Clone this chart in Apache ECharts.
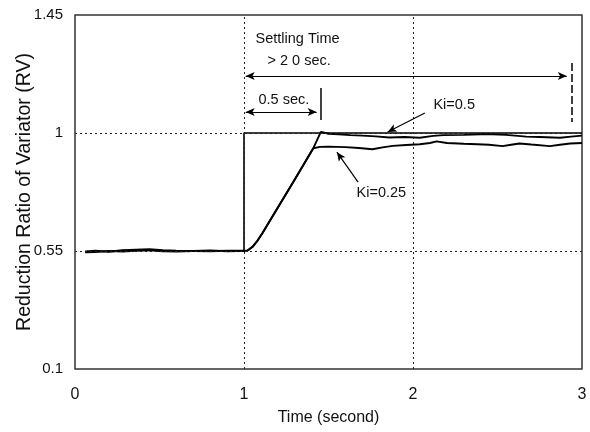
<!DOCTYPE html>
<html>
<head>
<meta charset="utf-8">
<script src="https://cdn.jsdelivr.net/npm/echarts@6.0.0/dist/echarts.min.js"></script>
<style>
  html, body { margin: 0; padding: 0; background: #fff; }
  #chart { width: 590px; height: 432px; }
</style>
</head>
<body>
<div id="chart"></div>
<script>
// Axis ticks
const xTicks = [0, 1, 2, 3];
const yTicks = [0.1, 0.55, 1, 1.45];
const yTickLabels = ['0.1', '0.55', '1', '1.45'];

// Step command for the reduction ratio
const refTime = [1, 1, 3];
const refRV = [0.55, 1, 1];

// Response with Ki=0.5
const timeKi05 = [0.06, 0.12, 0.2, 0.28, 0.36, 0.44, 0.52, 0.6, 0.7, 0.8,
  0.9, 0.97, 1.0, 1.02, 1.05, 1.08, 1.11, 1.2, 1.3, 1.41,
  1.455, 1.5, 1.56, 1.63, 1.7, 1.78, 1.86, 1.95, 2.04, 2.12,
  2.18, 2.3, 2.4, 2.47, 2.55, 2.62, 2.67, 2.75, 2.87, 2.95, 3.0];
const rvKi05 = [0.548, 0.551, 0.547, 0.553, 0.555, 0.557, 0.553, 0.551, 0.550, 0.549,
  0.551, 0.551, 0.551, 0.552, 0.566, 0.590, 0.620, 0.716, 0.823, 0.942,
  1.004, 0.997, 0.995, 0.992, 0.990, 0.987, 0.983, 0.985, 0.982, 0.989,
  0.992, 0.993, 0.995, 0.995, 0.993, 0.989, 0.986, 0.985, 0.982, 0.987, 0.990];

// Response with Ki=0.25
const timeKi025 = [0.06, 0.12, 0.2, 0.28, 0.36, 0.44, 0.52, 0.6, 0.7, 0.8,
  0.9, 0.97, 1.0, 1.02, 1.05, 1.08, 1.11, 1.2, 1.3, 1.41,
  1.45, 1.5, 1.6, 1.68, 1.76, 1.82, 1.88, 1.96, 2.04, 2.1,
  2.14, 2.2, 2.3, 2.38, 2.45, 2.53, 2.58, 2.63, 2.7, 2.81,
  2.87, 2.93, 3.0];
const rvKi025 = [0.545, 0.546, 0.550, 0.548, 0.551, 0.553, 0.549, 0.548, 0.550, 0.552,
  0.549, 0.550, 0.550, 0.551, 0.565, 0.589, 0.619, 0.715, 0.822, 0.942,
  0.947, 0.948, 0.946, 0.943, 0.938, 0.945, 0.951, 0.954, 0.957, 0.962,
  0.968, 0.962, 0.959, 0.957, 0.955, 0.950, 0.955, 0.960, 0.956, 0.950,
  0.955, 0.960, 0.962];

// Gridline positions
const xGridAt = [1, 2];
const yGridAt = [1, 0.55];

const pairs = (xs, ys) => xs.map((x, i) => [x, ys[i]]);

const font = "'Liberation Sans', Arial, sans-serif";
const ink = '#111';

const dotted = { color: '#222', width: 1, type: [2, 3] };

function note(text, x, y) {
  return { name: text, coord: [x, y] };
}

const chart = echarts.init(document.getElementById('chart'), null, { renderer: 'canvas' });

chart.setOption({
  animation: false,
  backgroundColor: '#fff',
  grid: {
    left: 75, right: 8, top: 15, bottom: 63,
    outerBoundsMode: 'none',
    containLabel: false,
    show: true, borderColor: '#333', borderWidth: 1.5, backgroundColor: 'transparent'
  },
  xAxis: {
    type: 'value',
    min: xTicks[0], max: xTicks[xTicks.length - 1], interval: 1,
    name: 'Time (second)',
    nameLocation: 'middle',
    nameGap: 41,
    nameMoveOverlap: false,
    nameTextStyle: { fontFamily: font, fontSize: 16, color: ink },
    axisLine: { show: false },
    axisTick: { show: false },
    splitLine: { show: false },
    axisLabel: {
      fontFamily: font, fontSize: 16, color: ink, margin: 18,
      formatter: v => String(v)
    }
  },
  yAxis: {
    type: 'value',
    min: yTicks[0], max: yTicks[yTicks.length - 1],
    name: 'Reduction Ratio of Variator (RV)',
    nameLocation: 'middle',
    nameGap: 40,
    nameMoveOverlap: false,
    nameTextStyle: { fontFamily: font, fontSize: 19.5, color: ink },
    axisLine: { show: false },
    axisTick: { show: false },
    splitLine: { show: false },
    axisLabel: {
      customValues: yTicks,
      fontFamily: font, fontSize: 15, color: ink, margin: 12,
      formatter: v => {
        const i = yTicks.findIndex(t => Math.abs(t - v) < 1e-6);
        return i >= 0 ? yTickLabels[i] : '';
      }
    }
  },
  series: [
    {
      // dotted reference grid
      type: 'line',
      data: [],
      z: 1,
      silent: true,
      markLine: {
        silent: true,
        symbol: 'none',
        label: { show: false },
        lineStyle: dotted,
        data: xGridAt.map(v => ({ xAxis: v })).concat(yGridAt.map(v => ({ yAxis: v })))
      }
    },
    {
      name: 'Ki=0.25',
      type: 'line',
      data: pairs(timeKi025, rvKi025),
      showSymbol: false,
      z: 3,
      lineStyle: { color: '#000', width: 1.9 }
    },
    {
      name: 'Ki=0.5',
      type: 'line',
      data: pairs(timeKi05, rvKi05),
      showSymbol: false,
      z: 3,
      lineStyle: { color: '#000', width: 1.9 }
    },
    {
      name: 'Command',
      type: 'line',
      data: pairs(refTime, refRV),
      showSymbol: false,
      z: 4,
      lineStyle: { color: '#000', width: 1.6 }
    },
    {
      // annotations: settling time arrows and curve labels
      type: 'line',
      data: [],
      z: 5,
      silent: true,
      markLine: {
        silent: true,
        symbolSize: [6, 9],
        label: { show: false },
        lineStyle: { color: '#000', width: 1.2, type: 'solid' },
        data: [
          [{ coord: [1.01, 1.217], symbol: 'arrow' }, { coord: [2.91, 1.217], symbol: 'arrow' }],
          [{ coord: [1.01, 1.08], symbol: 'arrow' }, { coord: [1.43, 1.08], symbol: 'arrow' }],
          [{ coord: [1.456, 1.172], symbol: 'none', lineStyle: { width: 1.5 } }, { coord: [1.456, 1.05], symbol: 'none' }],
          [{ coord: [2.94, 1.267], symbol: 'none', lineStyle: { width: 1.5, type: [8, 3] } }, { coord: [2.94, 1.042], symbol: 'none' }],
          [{ coord: [2.07, 1.076], symbol: 'none' }, { coord: [1.85, 1.004], symbol: 'arrow' }],
          [{ coord: [1.675, 0.813], symbol: 'none' }, { coord: [1.55, 0.927], symbol: 'arrow' }]
        ]
      },
      markPoint: {
        silent: true,
        symbol: 'circle',
        symbolSize: 1,
        itemStyle: { color: 'transparent' },
        label: {
          show: true,
          position: 'right',
          distance: 0,
          fontFamily: font,
          fontSize: 14.5,
          color: ink,
          formatter: p => p.name
        },
        data: [
          note('Settling Time', 1.065, 1.357),
          note('> 2 0 sec.', 1.136, 1.273),
          note('0.5 sec.', 1.083, 1.126),
          note('Ki=0.5', 2.118, 1.107),
          note('Ki=0.25', 1.663, 0.771)
        ]
      }
    }
  ]
});
</script>
</body>
</html>
